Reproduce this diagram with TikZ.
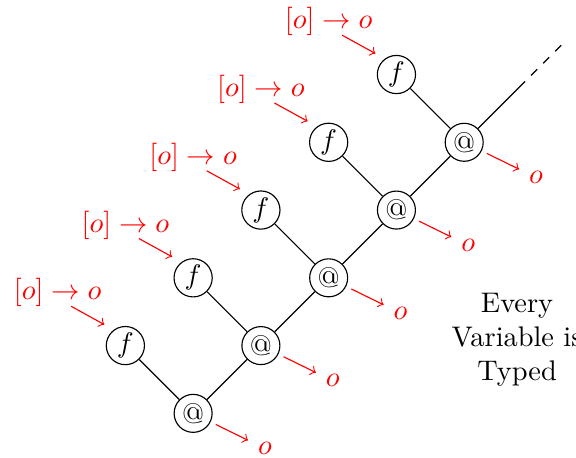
\documentclass[tikz,border=0pt]{standalone}
\begin{document}
\begin{tikzpicture}[x=0.84cm,y=0.84cm,
    vert/.style={draw,circle,inner sep=1pt,minimum size=13.4pt}]
  \useasboundingbox (-2.85,-0.65) rectangle (5.65,6.1);
  % 应用结点与函数结点
  \foreach \i in {0,...,4} {
    \node[vert] (a\i) at (\i,\i) {@};
    \node[vert] (f\i) at (\i-1,\i+1) {$f$};
    \draw (f\i) -- (a\i);
  }
  \foreach \i/\j in {0/1,1/2,2/3,3/4}
    \draw (a\i) -- (a\j);
  % 向右上延伸（虚线）
  \coordinate (brk) at ([shift={(0.81,0.81)}]a4.center);
  \coordinate (tail) at ([shift={(1.45,1.45)}]a4.center);
  \draw (a4) -- (brk);
  \draw[dashed] (brk) -- (tail);
  % 类型标注
  \foreach \i in {0,...,4} {
    \node[red] (t\i) at (\i-2,\i+1.78) {$[o]\rightarrow o$};
    \draw[red,->] ([shift={(-0.8,0.58)}]f\i.center) -- ([shift={(-0.31,0.31)}]f\i.center);
    \node[red] (o\i) at ([shift={(1.06,-0.52)}]a\i.center) {$o$};
    \draw[red,->,shorten <=2pt] (a\i) -- (o\i);
  }
  \node[align=center] (txt) at (4.78,1.08) {Every\\Variable is\\Typed};
\end{tikzpicture}
\end{document}
